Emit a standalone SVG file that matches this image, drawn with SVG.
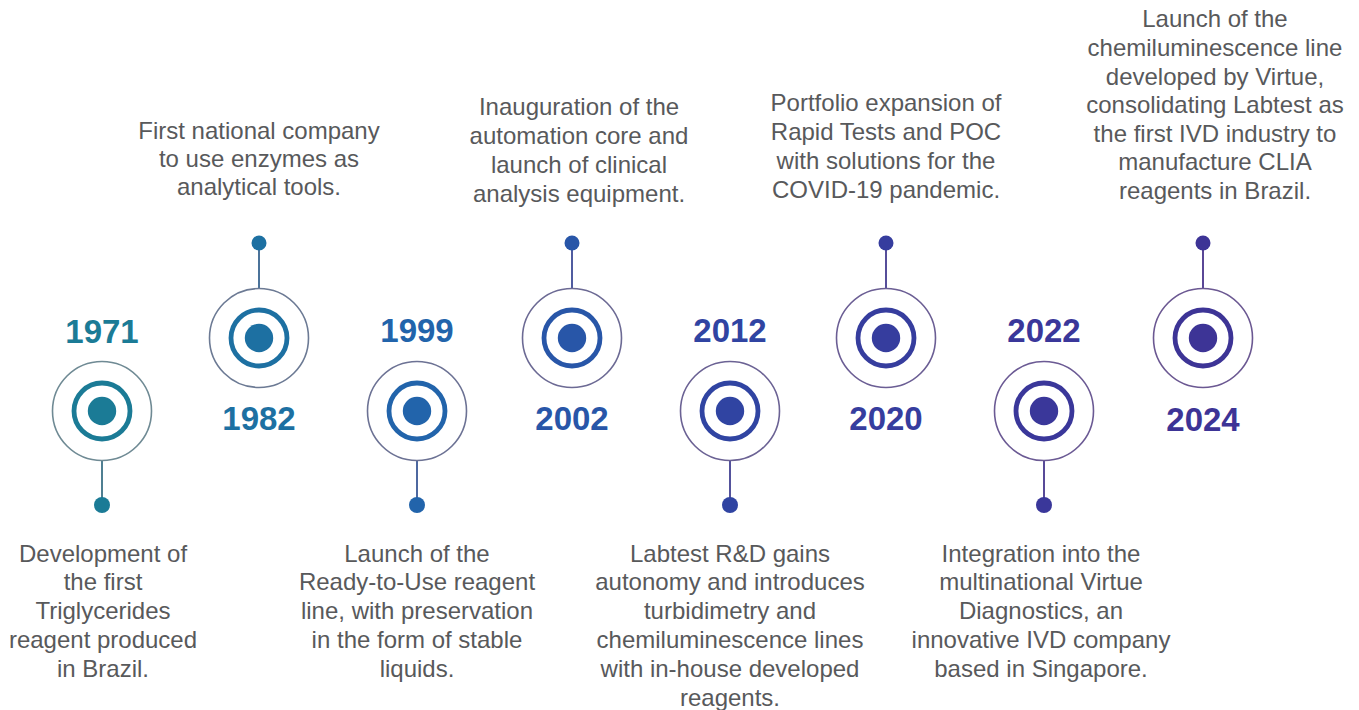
<svg xmlns="http://www.w3.org/2000/svg" width="1359" height="710" viewBox="0 0 1359 710">
<style>
.outer{fill:none;stroke-width:1.6}
.ring{fill:none;stroke:currentColor;stroke-width:4.8}
.core{fill:currentColor}
.pin{fill:currentColor}
.year{fill:currentColor;font-family:"Liberation Sans",Arial,sans-serif;font-weight:bold;font-size:33px;text-anchor:middle}
.desc{fill:#58595b;font-family:"Liberation Sans",Arial,sans-serif;font-size:24px;text-anchor:middle}
.stem{stroke-width:2;fill:none}
</style>
<rect width="1359" height="710" fill="#ffffff"/>
<g id="connectors">
  <line class="stem" x1="102" y1="460" x2="102" y2="505" stroke="#4f7f92"/>
  <line class="stem" x1="259" y1="288" x2="259" y2="243" stroke="#4b739a"/>
  <line class="stem" x1="417" y1="460" x2="417" y2="505" stroke="#4d68a0"/>
  <line class="stem" x1="572" y1="288" x2="572" y2="243" stroke="#505ca0"/>
  <line class="stem" x1="730" y1="460" x2="730" y2="505" stroke="#54529c"/>
  <line class="stem" x1="886" y1="288" x2="886" y2="243" stroke="#564e9a"/>
  <line class="stem" x1="1044" y1="460" x2="1044" y2="505" stroke="#584a98"/>
  <line class="stem" x1="1203" y1="288" x2="1203" y2="243" stroke="#5a4796"/>
</g>
<g id="node-1971" color="#1b7b96">
  <circle class="outer" cx="102" cy="411" r="49.5" stroke="#6f8a94"/>
  <circle class="ring" cx="102" cy="411" r="28"/>
  <circle class="core" cx="102" cy="411" r="14.2"/>
  <circle class="pin" cx="102" cy="505" r="8"/>
  <text class="year" x="102" y="343">1971</text>
  <text class="desc" x="103"><tspan x="103" y="562">Development of</tspan><tspan x="103" y="590">the first</tspan><tspan x="103" y="619">Triglycerides</tspan><tspan x="103" y="648">reagent produced</tspan><tspan x="103" y="677">in Brazil.</tspan></text>
</g>
<g id="node-1982" color="#1d70a2">
  <circle class="outer" cx="259" cy="338" r="49.5" stroke="#6c7a94"/>
  <circle class="ring" cx="259" cy="338" r="28"/>
  <circle class="core" cx="259" cy="338" r="14.2"/>
  <circle class="pin" cx="259" cy="243" r="7.5"/>
  <text class="year" x="259" y="430">1982</text>
  <text class="desc"><tspan x="259" y="139">First national company</tspan><tspan x="259" y="167">to use enzymes as</tspan><tspan x="259" y="195">analytical tools.</tspan></text>
</g>
<g id="node-1999" color="#2264ab">
  <circle class="outer" cx="417" cy="411" r="49.5" stroke="#6c7294"/>
  <circle class="ring" cx="417" cy="411" r="28"/>
  <circle class="core" cx="417" cy="411" r="14.2"/>
  <circle class="pin" cx="417" cy="505" r="8"/>
  <text class="year" x="417" y="342">1999</text>
  <text class="desc"><tspan x="417" y="562">Launch of the</tspan><tspan x="417" y="590">Ready-to-Use reagent</tspan><tspan x="417" y="619">line, with preservation</tspan><tspan x="417" y="648">in the form of stable</tspan><tspan x="417" y="677">liquids.</tspan></text>
</g>
<g id="node-2002" color="#2856a8">
  <circle class="outer" cx="572" cy="338" r="49.5" stroke="#6c6a94"/>
  <circle class="ring" cx="572" cy="338" r="28"/>
  <circle class="core" cx="572" cy="338" r="14.2"/>
  <circle class="pin" cx="572" cy="243" r="7.5"/>
  <text class="year" x="572" y="430">2002</text>
  <text class="desc"><tspan x="579" y="115">Inauguration of the</tspan><tspan x="579" y="144">automation core and</tspan><tspan x="579" y="173">launch of clinical</tspan><tspan x="579" y="202">analysis equipment.</tspan></text>
</g>
<g id="node-2012" color="#3044a2">
  <circle class="outer" cx="730" cy="411" r="49.5" stroke="#6b6294"/>
  <circle class="ring" cx="730" cy="411" r="28"/>
  <circle class="core" cx="730" cy="411" r="14.2"/>
  <circle class="pin" cx="730" cy="505" r="8"/>
  <text class="year" x="730" y="342">2012</text>
  <text class="desc"><tspan x="730" y="562">Labtest R&amp;D gains</tspan><tspan x="730" y="590">autonomy and introduces</tspan><tspan x="730" y="619">turbidimetry and</tspan><tspan x="730" y="648">chemiluminescence lines</tspan><tspan x="730" y="677">with in-house developed</tspan><tspan x="730" y="706">reagents.</tspan></text>
</g>
<g id="node-2020" color="#363d9e">
  <circle class="outer" cx="886" cy="338" r="49.5" stroke="#6b5e94"/>
  <circle class="ring" cx="886" cy="338" r="28"/>
  <circle class="core" cx="886" cy="338" r="14.2"/>
  <circle class="pin" cx="886" cy="243" r="7.5"/>
  <text class="year" x="886" y="430">2020</text>
  <text class="desc"><tspan x="886" y="111">Portfolio expansion of</tspan><tspan x="886" y="140">Rapid Tests and POC</tspan><tspan x="886" y="169">with solutions for the</tspan><tspan x="886" y="198">COVID-19 pandemic.</tspan></text>
</g>
<g id="node-2022" color="#3a379a">
  <circle class="outer" cx="1044" cy="411" r="49.5" stroke="#6b5a94"/>
  <circle class="ring" cx="1044" cy="411" r="28"/>
  <circle class="core" cx="1044" cy="411" r="14.2"/>
  <circle class="pin" cx="1044" cy="505" r="8"/>
  <text class="year" x="1044" y="342">2022</text>
  <text class="desc"><tspan x="1041" y="562">Integration into the</tspan><tspan x="1041" y="590">multinational Virtue</tspan><tspan x="1041" y="619">Diagnostics, an</tspan><tspan x="1041" y="648">innovative IVD company</tspan><tspan x="1041" y="677">based in Singapore.</tspan></text>
</g>
<g id="node-2024" color="#3d3496">
  <circle class="outer" cx="1203" cy="338" r="49.5" stroke="#6b5892"/>
  <circle class="ring" cx="1203" cy="338" r="28"/>
  <circle class="core" cx="1203" cy="338" r="14.2"/>
  <circle class="pin" cx="1203" cy="243" r="7.5"/>
  <text class="year" x="1203" y="431">2024</text>
  <text class="desc"><tspan x="1215" y="27">Launch of the</tspan><tspan x="1215" y="56">chemiluminescence line</tspan><tspan x="1215" y="85">developed by Virtue,</tspan><tspan x="1215" y="113">consolidating Labtest as</tspan><tspan x="1215" y="142">the first IVD industry to</tspan><tspan x="1215" y="170">manufacture CLIA</tspan><tspan x="1215" y="199">reagents in Brazil.</tspan></text>
</g>
</svg>
